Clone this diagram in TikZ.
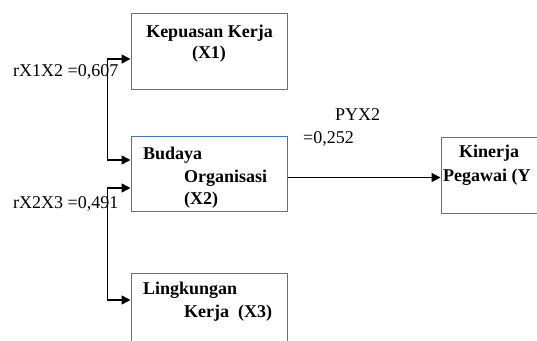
\documentclass[tikz,border=0pt]{standalone}
\usepackage{fontspec}
\setmainfont{Liberation Serif}
\usetikzlibrary{calc,arrows.meta,positioning}
\definecolor{boxblue}{RGB}{68,114,196}

\begin{document}
\begin{tikzpicture}[
  x=1pt, y=-1pt,
  every node/.style={font=\fontsize{18}{21}\selectfont},
  varbox/.style={draw=boxblue, line width=1pt, fill=white, inner sep=0pt},
  boxtext/.style={anchor=base west, inner sep=0pt, font=\fontsize{18}{21}\selectfont\bfseries},
  coef/.style={anchor=base west, inner sep=0pt},
  link/.style={line width=1.6pt, -{Triangle[length=9pt,width=9pt]}},
  corr/.style={line width=1.6pt, {Triangle[length=9pt,width=9pt]}-{Triangle[length=9pt,width=9pt]}}
]
  \useasboundingbox (0,0) rectangle (537,340);

  \node [varbox,
    minimum width = 156pt,
    minimum height = 76pt] (x1) at (209,51) {};
  \node [varbox,
    minimum width = 156pt,
    minimum height = 75pt] (x2) at (209,173.5) {};
  \node [varbox,
    minimum width = 156pt,
    minimum height = 80pt] (x3) at (209,313) {};
  \node [varbox,
    minimum width = 140pt,
    minimum height = 76pt] (y) at (511,175) {};

  \node [boxtext, anchor=base] (x1_l1) at (209.5,37) {Kepuasan Kerja};
  \node [boxtext, anchor=base] (x1_l2) at (209,58) {(X1)};

  \node [boxtext] (x2_l1) at (143,159) {Budaya};
  \node [boxtext] (x2_l2) at (184,182) {Organisasi};
  \node [boxtext] (x2_l3) at (184,204) {(X2)};

  \node [boxtext] (x3_l1) at (143,294) {Lingkungan};
  \node [boxtext] (x3_l2) at (184,317) {Kerja~~(X3)};

  \node [boxtext] (y_l1) at (459,157) {Kinerja};
  \node [boxtext] (y_l2) at (443,181.5) {Pegawai (Y};

  \node [coef] (r12) at (13,76) {rX1X2 =0,607};
  \node [coef] (r23) at (13,208) {rX2X3 =0,491};
  \node [coef] (pyx) at (335,120.5) {PYX2};
  \node [coef] (pyx_v) at (303,143) {=0,252};

  \draw [corr] ($(x1.west)+(0,8)$) -- ++(-23,0) |- ($(x2.west)+(0,-13.5)$);
  \draw [corr] ($(x2.west)+(0,14.5)$) -- ++(-23,0) |- ($(x3.west)+(0,-13)$);
  \draw [link] ($(x2.east)+(0,4)$) -- ($(y.west)+(0,2.5)$);

\end{tikzpicture}
\end{document}
